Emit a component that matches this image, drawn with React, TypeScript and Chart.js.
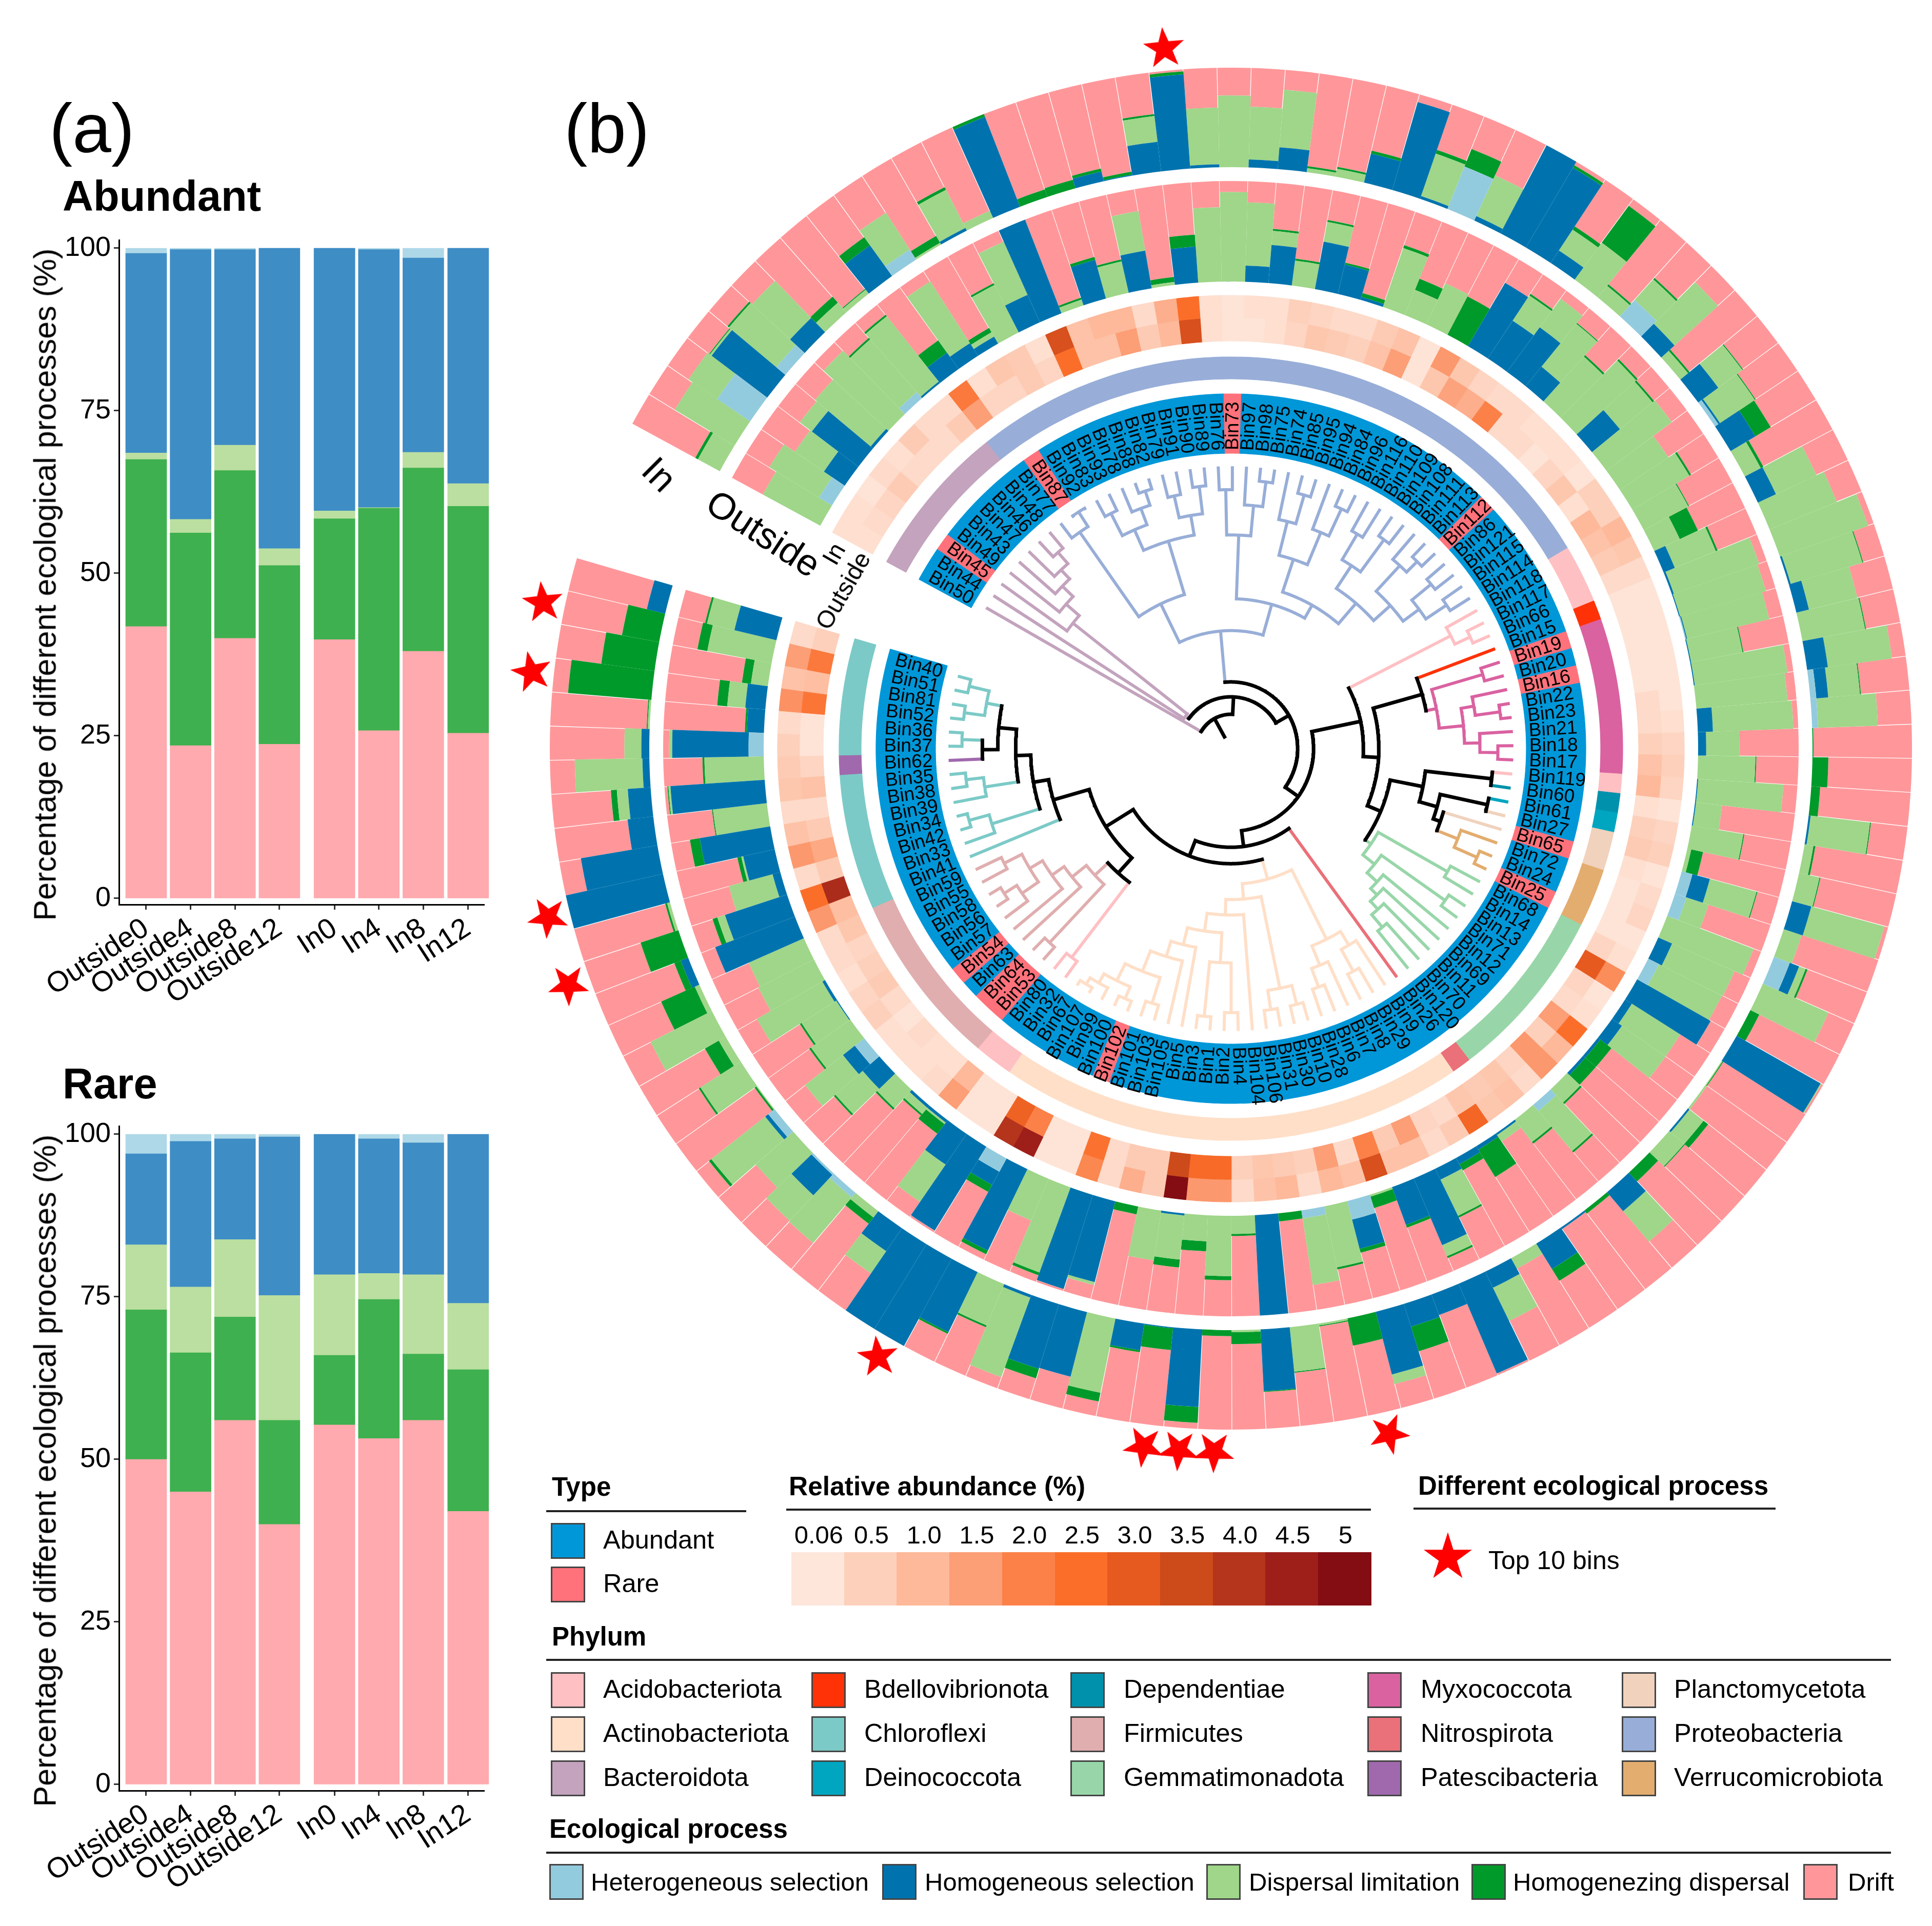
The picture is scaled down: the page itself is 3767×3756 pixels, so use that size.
import React, { useEffect, useRef } from "react";
import { Chart, registerables, DoughnutController } from "chart.js";
Chart.register(...registerables);
const FONT = '"Liberation Sans", Arial, sans-serif';

/* ---------- panel (a) ---------- */
const sampleLabels = ["Outside0", "Outside4", "Outside8", "Outside12", "In0", "In4", "In8", "In12"];
const samplePositions = [0, 1, 2, 3, 4.24, 5.24, 6.24, 7.25];
const processNames = ["Heterogeneous selection", "Homogeneous selection", "Dispersal limitation", "Homogenezing dispersal", "Drift"];
const processColors = ["#93CBDE", "#0073AE", "#9FD689", "#009A2A", "#FF979A"];
const barColors = { drift: "#FFAAAE", homDisp: "#3FB04F", disp: "#BADFA0", homSel: "#3F8DC5", het: "#AED8E8" };
const abDrift = [41.8, 23.5, 40, 23.7, 39.8, 25.8, 38, 25.4];
const abHomDisp = [25.7, 32.7, 25.8, 27.5, 18.6, 34.2, 28.2, 34.9];
const abDisp = [1, 2.1, 3.9, 2.6, 1.2, 0.1, 2.4, 3.5];
const abHomSel = [30.7, 41.5, 30.1, 46.2, 40.4, 39.7, 29.9, 36.2];
const abHet = [0.8, 0.2, 0.2, 0, 0, 0.2, 1.5, 0];
const raDrift = [50, 45, 56, 40, 55.3, 53.2, 56, 42];
const raHomDisp = [23, 21.4, 15.9, 16, 10.7, 21.4, 10.2, 21.8];
const raDisp = [10, 10.1, 11.9, 19.2, 12.4, 4, 12.2, 10.2];
const raHomSel = [14, 22.4, 15.5, 24.4, 21.6, 20.7, 20.3, 26];
const raHet = [3, 1.1, 0.7, 0.4, 0, 0.7, 1.3, 0];
const yAxisTitle = "Percentage of different ecological processes (%)";

/* ---------- panel (b) ---------- */
const binIds = [50,44,45,49,43,47,46,48,77,87,92,83,93,78,88,82,79,91,90,89,76,73,97,98,75,74,85,95,94,84,96,116,110,109,108,111,113,112,86,121,115,114,118,117,66,15,19,20,16,22,23,21,18,17,119,60,61,27,65,72,24,25,68,14,13,71,12,69,11,70,120,26,9,29,8,7,6,28,10,30,31,106,104,4,2,1,3,5,105,103,101,102,100,99,107,67,32,80,53,64,63,54,57,56,58,55,59,41,33,42,34,39,38,35,62,37,36,52,81,51,40];
const rareBins = [73,87,45,112,19,16,65,25,102,54,64,53];
const topBins = [89,51,52,34,33,107,3,1,2,30];
const typeColors = { Abundant: "#0097D8", Rare: "#FF727B" };
const phylumNames = ["Acidobacteriota","Actinobacteriota","Bacteroidota","Bdellovibrionota","Chloroflexi","Deinococcota","Dependentiae","Firmicutes","Gemmatimonadota","Myxococcota","Nitrospirota","Patescibacteria","Planctomycetota","Proteobacteria","Verrucomicrobiota"];
const phylumColors = ["#FFC0C3","#FFDFC8","#C3A3BD","#FF3207","#7CCAC7","#00A6C0","#0092AC","#E0AEAF","#98D6A9","#DA62A1","#EA7079","#A069AD","#F0D2BD","#98AED8","#E3AD6F"];
// [phylum index, number of consecutive bins]
const phylumRuns = [[2,8],[13,34],[0,3],[3,1],[9,8],[0,1],[6,1],[5,1],[12,2],[14,3],[8,9],[10,1],[1,24],[0,2],[7,9],[4,7],[11,1],[4,6]];
const abundanceTicks = ["0.06","0.5","1.0","1.5","2.0","2.5","3.0","3.5","4.0","4.5","5"];
const abundanceStops = [0.06,0.5,1,1.5,2,2.5,3,3.5,4,4.5,5];
const abundanceColors = ["#FEE6DA","#FDD0BB","#FDB99A","#FC9E76","#FB8148","#FB6E2A","#E65A20","#CD4A1B","#B4341C","#9E1F1A","#840D13"];
const heatIn = [.2,.2,.1,.3,.2,.6,.3,.3,2.2,.2,.7,.6,.2,3.3,.8,1,1,.3,1.2,2.5,.2,.1,.2,.2,.5,.4,.3,.3,.6,.8,.1,1.6,.7,.4,.3,.3,.2,.2,.2,.1,.5,.5,1,.7,.3,.1,.1,.1,.1,.1,.1,.2,.4,.5,.4,.1,.4,.5,.1,.3,.4,.1,.2,1.8,.1,.2,2.5,1,1.6,.3,.8,.7,2.7,.6,.3,.8,.8,3.3,.8,1,.3,1,.8,.3,1.6,1.6,5,.6,1.2,.3,1.9,.1,.1,4.5,4,.1,.1,1.5,.3,.2,.2,.2,.5,.4,.2,.3,.3,1.6,2.5,.3,1.6,.8,.3,.7,.6,.5,.3,1.7,.8,1.5,.3];
const heatOut = [.2,.3,.4,.6,.3,.3,.3,.6,1.5,.4,.4,.6,.4,2.5,.8,.8,1.5,.6,1,3.3,.2,.1,.1,.2,.4,.7,.6,.5,.8,1.5,.1,.7,1.4,1.2,2,.3,.3,.1,.4,.7,.2,1,.8,.6,.3,.1,.1,.1,.1,.1,.3,.3,.5,.8,1,.2,.5,.6,.2,.1,.1,.1,.4,3,.4,.3,1.5,.5,1.6,.4,.7,.6,.7,.3,.4,1.5,.6,2,.3,1.5,.5,.6,.7,.5,2.6,2.6,3.5,.6,.6,.3,2.4,.1,.1,2,2.8,.1,.1,1,.2,.2,.3,.1,.3,.6,.5,.4,.7,.9,4.2,.6,1.3,.6,.3,.8,.4,.1,.1,2.3,.9,2.2,.5];
// Each row, one bin: heterogeneous, homogeneous, dispersal limitation, homogenizing dispersal (%); drift is what remains of 100
const inRows = [
[0,0,25,3],[0,0,70,0],[40,0,35,0],[0,70,2,1],[12,0,62,2],[0,20,52,0],[0,0,13,8],[0,0,5,1],[0,38,0,10],[12,0,44,0],
[0,0,2,8],[0,3,43,3],[0,0,8,0],[0,97,0,3],[0,0,0,8],[0,0,0,9],[0,10,0,3],[0,1,0,3],[0,30,26,2],[0,95,0,3],
[0,3,57,0],[0,0,72,0],[0,8,53,0],[0,22,58,0],[0,0,4,2],[0,0,8,2],[0,30,0,3],[0,92,0,0],[0,3,45,4],[46,0,0,19],
[0,5,45,0],[0,100,0,0],[0,93,0,3],[0,15,25,4],[0,0,46,46],[0,0,15,2],[22,0,28,2],[0,18,59,0],[0,0,10,2],[0,25,30,1],
[4,2,42,1],[0,29,0,18],[0,0,18,3],[0,20,45,0],[0,0,73,0],[0,0,94,0],[0,2,75,1],[0,13,50,0],[0,0,64,1],[0,21,65,0],
[6,12,32,1],[6,0,60,0],[0,0,0,1],[0,0,0,16],[0,0,0,9],[0,2,60,1],[0,0,9,2],[0,0,21,1],[0,20,76,0],[0,0,19,0],
[17,10,7,2],[0,0,72,0],[0,0,0,10],[0,97,1,0],[0,0,1,1],[0,0,2,0],[0,2,18,6],[0,0,20,1],[0,0,0,12],[0,25,40,0],
[0,0,0,4],[0,2,0,0],[0,30,0,14],[0,0,12,0],[0,18,37,0],[0,98,0,0],[0,22,0,0],[0,24,0,26],[0,65,10,0],[0,0,0,28],
[0,0,2,1],[0,0,45,1],[0,62,0,1],[0,0,2,12],[0,0,0,6],[0,78,0,16],[0,1,0,22],[0,27,0,2],[0,0,76,9],[0,67,0,0],
[0,68,0,10],[0,3,85,0],[0,0,45,2],[0,67,0,2],[0,100,0,0],[0,100,0,0],[0,28,27,0],[0,0,8,8],[6,0,60,0],[2,28,35,0],
[0,0,50,0],[8,4,69,3],[0,0,1,2],[0,0,48,2],[0,0,8,16],[0,0,69,0],[0,0,5,37],[0,8,0,7],[0,0,0,40],[0,0,3,2],
[0,100,0,0],[0,78,0,0],[0,26,0,0],[0,23,11,6],[0,7,68,0],[0,8,17,0],[0,0,2,1],[0,0,0,84],[0,0,0,54],[0,0,0,38],[0,19,0,0]];
const outRows = [
[0,0,65,0],[15,0,58,0],[0,25,35,0],[0,58,15,0],[0,3,72,0],[0,0,88,0],[8,0,70,2],[0,2,83,2],[0,20,0,15],[0,15,73,0],
[0,8,5,5],[0,0,53,2],[0,30,58,0],[0,100,0,0],[0,0,6,2],[0,40,0,3],[0,0,32,2],[0,38,40,0],[0,0,3,5],[0,36,0,12],
[0,0,74,0],[0,0,89,0],[0,16,63,0],[0,38,14,2],[0,0,25,2],[0,48,20,2],[0,30,0,2],[0,3,0,4],[0,0,62,3],[0,0,27,12],
[0,0,45,0],[0,0,0,43],[0,73,0,0],[0,45,30,2],[0,55,35,0],[0,25,55,1],[0,0,60,2],[0,0,80,2],[0,36,42,2],[0,0,81,0],
[0,0,58,0],[0,0,66,2],[0,0,50,1],[0,0,28,20],[0,12,44,2],[0,2,90,0],[0,1,89,0],[1,1,84,0],[0,1,52,1],[0,1,93,0],
[0,0,91,0],[0,15,80,0],[0,8,33,0],[0,0,57,1],[0,1,85,0],[0,1,26,0],[0,0,52,1],[0,0,4,12],[11,18,48,1],[12,0,23,0],
[0,0,92,0],[0,15,68,0],[12,0,70,0],[0,84,0,0],[0,8,57,0],[0,12,53,0],[0,3,0,14],[0,3,0,14],[0,0,18,2],[8,0,52,2],
[0,0,28,2],[0,2,8,0],[0,4,0,32],[0,7,0,7],[0,12,40,2],[0,72,12,2],[0,40,0,3],[0,0,2,12],[19,30,0,4],[0,0,62,2],
[8,0,67,0],[0,0,0,8],[0,100,0,0],[0,0,18,2],[0,0,60,4],[0,0,26,10],[0,2,44,8],[0,0,50,0],[0,0,0,8],[0,83,3,0],
[0,98,0,0],[0,0,90,3],[0,0,45,0],[0,90,0,4],[15,15,0,8],[0,98,0,0],[0,37,45,0],[0,3,2,12],[0,3,8,2],[0,0,25,2],
[0,22,36,2],[12,15,48,0],[0,0,48,2],[0,1,41,2],[0,3,75,0],[0,0,62,0],[0,0,60,0],[0,85,0,0],[0,65,8,5],[0,8,45,0],
[0,32,2,4],[0,71,0,10],[0,0,54,1],[0,94,2,1],[0,0,59,2],[15,76,3,0],[0,17,0,2],[0,20,18,10],[0,0,17,9],[0,0,65,10],[0,43,28,2]];

/* Dendrogram: n(node radius, ...children); a number is a tip, by its position in binIds */
type T = number | { r: number; c: T[] };
const n = (r: number, ...c: T[]): T => ({ r, c });
const proteoA = n(323,
  n(530, 8, n(565, 9, 10)),
  n(435, n(480, n(530, 11, 12), n(515, 13, n(545, 14, 15))), n(475, n(520, 16, 17), n(530, 18, 19))));
const proteoB = n(301,
  n(429, n(520, 20, 21), n(490, 22, n(540, 23, 24))),
  n(331,
    n(400, n(470, 25, n(530, 26, 27)), n(470, 28, n(530, 29, 30))),
    n(385, n(440, n(500, 31, 32), n(520, 33, 34)), n(430, n(500, 35, n(530, 36, 37)), n(470, n(520, 38, 39), n(520, 40, 41))))));
const actino = n(272,
  n(303,
    n(491, n(530, 78, 79), n(530, 80, 81)),
    n(334, 82,
      n(370,
        n(430, n(530, 83, 84), n(540, 85, 86)),
        n(405, 87, n(437, 88, n(481, n(535, 89, 90), n(519, n(545, 91, 92), n(540, 93, n(555, 94, 95)))))))),
  ),
  n(428, n(460, 72, n(510, 73, 74)), n(470, 75, n(510, 76, 77))));
const firmicutes = n(373, n(533, 98, 99),
  n(410, 100, n(440, 101, n(470, n(510, 102, n(540, 103, 104)), n(510, 105, 106)))));
const chloroSide = n(371, 107,
  n(402, n(503, 108, n(545, 109, 110)),
    n(432, n(500, 111, n(535, 112, 113)),
      n(468, n(499, 114, n(540, 115, 116)), n(499, n(540, 117, 118), n(540, 119, 120))))));
const tree: T = n(27,
  n(69, 0,
    n(104,
      n(112, 1, n(405, 2, n(440, 3, n(470, 4, n(495, 5, n(525, 6, 7)))))),
      n(134,
        n(237, proteoA, proteoB),
        n(166,
          n(266,
            n(496, 42, n(530, 43, 44)),
            n(297,
              n(399, 45, n(420, n(527, 46, 47), n(469, n(495, 48, n(545, 49, 50)), n(500, 51, n(536, 52, 53))))),
              n(326,
                n(393, n(527, 54, 55), n(430, n(527, 56, 57), n(445, 58, n(490, 59, n(540, 60, 61))))),
                n(340, n(500, 62, 63), n(370, n(527, 64, 65), n(397, 66, n(415, 67, n(437, 68, n(470, 69, 70))))))))),
          n(198, 71,
            n(231, actino,
              n(296, n(337, n(527, 96, 97), firmicutes), chloroSide))))))));

/* ---------- helpers ---------- */
const ROT = -61.5, SWEEP = 347.8, COUNT = binIds.length, STEP = SWEEP / COUNT;
const HALF = 1500, TIP_R = 564, STAR_R = 1412;
const RINGS = { type: [576, 692], phylum: [721, 764], heatOut: [795, 840], heatIn: [840, 884], out: [911, 1107], in: [1134, 1328] };
const binAngle = (i: number) => ROT + (i + 0.5) * STEP;
const phylumOfBin: number[] = phylumRuns.flatMap(([p, c]) => Array(c).fill(p));
const hex = (h: string) => [1, 3, 5].map((s) => parseInt(h.slice(s, s + 2), 16));
const heatColor = (v: number) => {
  let k = 0;
  while (k < abundanceStops.length - 2 && v > abundanceStops[k + 1]) k++;
  const t = Math.max(0, Math.min(1, (v - abundanceStops[k]) / (abundanceStops[k + 1] - abundanceStops[k])));
  const a = hex(abundanceColors[k]), b = hex(abundanceColors[k + 1]);
  return `rgb(${a.map((x, j) => Math.round(x + (b[j] - x) * t)).join(",")})`;
};
const xy = (r: number, deg: number) => ({ x: r * Math.sin((deg * Math.PI) / 180), y: r * Math.cos((deg * Math.PI) / 180) });

class RingController extends (DoughnutController as any) {
  static id = "ring";
  static defaults = (DoughnutController as any).defaults;
  static overrides = (DoughnutController as any).overrides;
  updateElement(el: any, i: number, props: any, mode: any) {
    const ds = (this as any).getDataset();
    if (props) {
      const s = ((ROT - 90 + i * STEP) * Math.PI) / 180;
      const w = (STEP * Math.PI) / 180 - (ds.slit || 0);
      props.startAngle = s; props.endAngle = s + w; props.circumference = w;
      props.innerRadius = ds.r0[i]; props.outerRadius = ds.r1[i];
    }
    super.updateElement(el, i, props, mode);
  }
}
Chart.register(RingController as any);

const flat = (key: string, values: number[], colors: string[], label: string) => {
  const [a, b] = (RINGS as any)[key];
  return { label, data: values.map(() => 1), r0: values.map(() => a), r1: values.map(() => b), backgroundColor: colors, borderColor: colors, borderWidth: 1.2 };
};
const stackRing = (key: string, rows: number[][], name: string) => {
  const [a, b] = (RINGS as any)[key];
  const out: any[] = [];
  const cum = rows.map(() => 0);
  processNames.forEach((p, k) => {
    const vals = rows.map((row) => (k < 4 ? row[k] : Math.max(0, 100 - row[0] - row[1] - row[2] - row[3])));
    const r0 = vals.map((_, i) => a + ((b - a) * cum[i]) / 100);
    vals.forEach((v, i) => { cum[i] = Math.min(100, cum[i] + v); });
    const r1 = vals.map((_, i) => a + ((b - a) * cum[i]) / 100);
    out.push({ label: `${name} ${p}`, data: vals, r0, r1, backgroundColor: processColors[k], borderWidth: 0, slit: k === 4 ? 0.001 : 0 });
  });
  return out;
};

function buildTreeSegments() {
  const segs: Record<string, any[]> = {};
  const phy = (t: T): number => { // single phylum index or -1
    if (typeof t === "number") return phylumOfBin[t];
    const s = t.c.map(phy);
    return s.every((v) => v === s[0]) ? s[0] : -1;
  };
  const colorOf = (t: T) => { const p = phy(t); return p < 0 ? "#000000" : phylumColors[p]; };
  const angle = (t: T): number => (typeof t === "number" ? binAngle(t) : t.c.map(angle).reduce((a, b) => a + b, 0) / t.c.length);
  const radius = (t: T) => (typeof t === "number" ? TIP_R : t.r);
  const push = (c: string, pts: any[]) => { (segs[c] = segs[c] || []).push(...pts, { x: NaN, y: NaN }); };
  const walk = (t: T) => {
    if (typeof t === "number") return;
    const angles = t.c.map(angle);
    const lo = Math.min(...angles), hi = Math.max(...angles);
    const arc: any[] = [];
    for (let d = lo; d < hi; d += 0.5) arc.push(xy(t.r, d));
    arc.push(xy(t.r, hi));
    if (hi > lo) push(colorOf(t), arc);
    t.c.forEach((c, i) => {
      push(colorOf(c), [xy(t.r, angles[i]), xy(radius(c), angles[i])]);
      walk(c);
    });
  };
  walk(tree);
  return segs;
}

function starCanvas(size: number) {
  const c = document.createElement("canvas");
  c.width = size; c.height = size;
  const g = c.getContext("2d")!;
  g.fillStyle = "#FF0000";
  g.beginPath();
  for (let k = 0; k < 10; k++) {
    const rr = k % 2 ? size * 0.2 : size * 0.5;
    const a = (k * Math.PI) / 5;
    const px = size / 2 + rr * Math.sin(a), py = size / 2 - rr * Math.cos(a);
    k ? g.lineTo(px, py) : g.moveTo(px, py);
  }
  g.closePath(); g.fill();
  return c;
}

function Bars({ top, series }: { top: number; series: number[][] }) {
  const ref = useRef<HTMLCanvasElement>(null);
  useEffect(() => {
    const cols = [barColors.drift, barColors.homDisp, barColors.disp, barColors.homSel, barColors.het];
    const names = ["Drift", "Homogenezing dispersal", "Dispersal limitation", "Homogeneous selection", "Heterogeneous selection"];
    const chart = new Chart(ref.current!, {
      type: "bar",
      data: {
        datasets: series.map((vals, k) => ({
          label: names[k], backgroundColor: cols[k], barThickness: 80, clip: false as any,
          data: vals.map((y, i) => ({ x: samplePositions[i], y })),
        })),
      },
      options: {
        responsive: false, animation: false, devicePixelRatio: 1, events: [],
        layout: { padding: { top: 28, right: 76, left: 0, bottom: 0 } },
        plugins: { legend: { display: false }, tooltip: { enabled: false }, title: { display: false } },
        scales: {
          x: {
            type: "linear", stacked: true, offset: false, min: -0.612, max: 7.61,
            afterBuildTicks: (s: any) => { s.ticks = samplePositions.map((value) => ({ value })); },
            afterFit: (s: any) => { s.height = 266; s.paddingLeft = 0; s.paddingRight = 0; },
            ticks: { callback: (_: any, i: number) => sampleLabels[i], autoSkip: false, minRotation: 33, maxRotation: 33, font: { size: 56, family: FONT }, color: "#000", padding: 4 },
            grid: { offset: false, drawOnChartArea: false, tickLength: 10, tickWidth: 3, tickColor: "#333", drawTicks: true },
            border: { color: "#000", width: 3 },
          },
          y: {
            stacked: true, min: -0.95, max: 101.26,
            afterBuildTicks: (s: any) => { s.ticks = [0, 25, 50, 75, 100].map((value) => ({ value })); },
            afterFit: (s: any) => { s.width = 232; s.paddingTop = 0; s.paddingBottom = 0; },
            ticks: { font: { size: 54, family: FONT }, color: "#000", padding: 6 },
            grid: { drawOnChartArea: false, tickLength: 10, tickWidth: 3, tickColor: "#333" },
            border: { color: "#000", width: 3 },
          },
        },
      } as any,
    });
    return () => chart.destroy();
  }, []);
  return <canvas ref={ref} width={1020} height={1590} style={{ position: "absolute", left: 0, top, display: "block" }} />;
}

function Rings() {
  const ref = useRef<HTMLCanvasElement>(null);
  useEffect(() => {
    const typeCols = binIds.map((b) => (rareBins.includes(b) ? typeColors.Rare : typeColors.Abundant));
    const phyCols = phylumOfBin.map((p) => phylumColors[p]);
    const labelPlugin = {
      id: "binLabels",
      afterDatasetsDraw(chart: any) {
        const g = chart.ctx;
        const cx = chart.width / 2, cy = chart.height / 2;
        g.save();
        g.font = `37px ${FONT}`;
        g.fillStyle = "#000";
        g.textBaseline = "middle";
        binIds.forEach((b, i) => {
          const a = binAngle(i);
          const nrm = ((a % 360) + 360) % 360;
          const right = nrm <= 180;
          g.save();
          g.translate(cx, cy);
          g.rotate(((a - 90) * Math.PI) / 180);
          g.translate(582, 0);
          if (!right) g.rotate(Math.PI);
          g.textAlign = right ? "left" : "right";
          g.fillText(`Bin${b}`, 0, 1);
          g.restore();
        });
        g.restore();
      },
    };
    const chart = new Chart(ref.current!, {
      type: "ring" as any,
      data: {
        labels: binIds.map((b) => `Bin${b}`),
        datasets: [
          flat("type", binIds, typeCols, "Type"),
          flat("phylum", binIds, phyCols, "Phylum"),
          flat("heatOut", heatOut, heatOut.map(heatColor), "Abundance Outside"),
          flat("heatIn", heatIn, heatIn.map(heatColor), "Abundance In"),
          ...stackRing("out", outRows, "Outside"),
          ...stackRing("in", inRows, "In"),
        ] as any,
      },
      options: {
        responsive: false, animation: false, devicePixelRatio: 1, events: [],
        layout: { padding: 0 },
        plugins: { legend: { display: false }, tooltip: { enabled: false } },
      } as any,
      plugins: [labelPlugin],
    });
    return () => chart.destroy();
  }, []);
  return <canvas ref={ref} width={HALF * 2} height={HALF * 2} style={{ position: "absolute", left: 2400 - HALF, top: 1460 - HALF, display: "block" }} />;
}

function TreeAndStars() {
  const ref = useRef<HTMLCanvasElement>(null);
  useEffect(() => {
    const segs = buildTreeSegments();
    const star = starCanvas(84);
    const chart = new Chart(ref.current!, {
      type: "scatter",
      data: {
        datasets: [
          ...Object.entries(segs).map(([color, data]) => ({
            label: color, data, showLine: true, spanGaps: false, pointRadius: 0, borderColor: color, borderWidth: color === "#000000" ? 7 : 6, borderCapStyle: "square", borderJoinStyle: "round", tension: 0,
          })),
          {
            label: "Top 10 bins", showLine: false,
            data: topBins.map((b) => xy(STAR_R, binAngle(binIds.indexOf(b)))),
            pointStyle: star as any, pointRadius: 42, pointRotation: topBins.map((b) => binAngle(binIds.indexOf(b))),
          },
        ] as any,
      },
      options: {
        responsive: false, animation: false, devicePixelRatio: 1, events: [],
        layout: { padding: 0 },
        plugins: { legend: { display: false }, tooltip: { enabled: false } },
        scales: {
          x: { type: "linear", display: false, bounds: "data", min: -HALF, max: HALF },
          y: { type: "linear", display: false, bounds: "data", min: -HALF, max: HALF },
        },
      } as any,
    });
    return () => chart.destroy();
  }, []);
  return <canvas ref={ref} width={HALF * 2} height={HALF * 2} style={{ position: "absolute", left: 2400 - HALF, top: 1460 - HALF, display: "block" }} />;
}

const Txt = ({ x, y, s = 50.5, b = false, rot = 0, center = false, children }: any) => (
  <div style={{ position: "absolute", left: x, top: y, fontSize: s, fontWeight: b ? 700 : 400, lineHeight: 1, whiteSpace: "nowrap", color: "#000",
    transform: `translate(${center ? "-50%" : "0"},-50%) rotate(${rot}deg)` }}>{children}</div>
);
const Swatch = ({ x, y, c, w = 67, h = 70 }: any) => (
  <div style={{ position: "absolute", left: x, top: y - h / 2, width: w, height: h, background: c, boxSizing: "border-box", border: "3px solid #444" }} />
);
const Rule = ({ x0, x1, y }: any) => <div style={{ position: "absolute", left: x0, top: y, width: x1 - x0, height: 4, background: "#222" }} />;

export default function App() {
  const phyCols = [1074, 1582, 2087, 2666, 3162];
  const phyText = [1176, 1685, 2191, 2770, 3264];
  const phyRows = [3296, 3382, 3468];
  const procSw = [1071, 1720, 2352, 2869, 3516];
  const procTx = [1152, 1803, 2435, 2950, 3603];
  return (
    <div style={{ position: "absolute", left: 0, top: 0, width: 3767, height: 3756, overflow: "hidden", background: "#fff", fontFamily: FONT }}>
      <Bars top={440} series={[abDrift, abHomDisp, abDisp, abHomSel, abHet]} />
      <Bars top={2168} series={[raDrift, raHomDisp, raDisp, raHomSel, raHet]} />
      <Rings />
      <TreeAndStars />
      <Txt x={88} y={1140} s={61} rot={-90} center>{yAxisTitle}</Txt>
      <Txt x={88} y={2868} s={61} rot={-90} center>{yAxisTitle}</Txt>
      <Txt x={96} y={250} s={136}>(a)</Txt>
      <Txt x={1100} y={250} s={136}>(b)</Txt>
      <Txt x={122} y={382} s={83} b>Abundant</Txt>
      <Txt x={122} y={2113} s={83} b>Rare</Txt>
      <Txt x={1286} y={925} s={72} rot={45} center>In</Txt>
      <Txt x={1489} y={1040} s={72} rot={33} center>Outside</Txt>
      <Txt x={1626} y={1080} s={48} rot={-60} center>In</Txt>
      <Txt x={1644} y={1152} s={48} rot={-60} center>Outside</Txt>

      <Txt x={1076} y={2899} s={51} b>Type</Txt>
      <Rule x0={1065} x1={1455} y={2945} />
      <Swatch x={1074} y={3005} c={typeColors.Abundant} />
      <Swatch x={1074} y={3090} c={typeColors.Rare} />
      <Txt x={1176} y={3003}>Abundant</Txt>
      <Txt x={1176} y={3088}>Rare</Txt>

      <Txt x={1538} y={2899} s={51.5} b>Relative abundance (%)</Txt>
      <Rule x0={1533} x1={2673} y={2942} />
      {abundanceTicks.map((t, i) => <Txt key={t} x={1545 + (i + 0.5) * 102.7} y={2993} s={49} center>{t}</Txt>)}
      {abundanceColors.map((c, i) => <div key={c} style={{ position: "absolute", left: 1543 + i * 102.7, top: 3027, width: 103.5, height: 104, background: c }} />)}

      <Txt x={2765} y={2897} s={51} b>Different ecological process</Txt>
      <Rule x0={2756} x1={3462} y={2940} />
      <div style={{ position: "absolute", left: 2774, top: 2988, width: 98, height: 98, background: "#FF0000", clipPath: "polygon(50% 0,61% 35%,98% 35%,68% 57%,79% 91%,50% 70%,21% 91%,32% 57%,2% 35%,39% 35%)" }} />
      <Txt x={2902} y={3043} s={50}>Top 10 bins</Txt>

      <Txt x={1076} y={3191} s={51} b>Phylum</Txt>
      <Rule x0={1065} x1={3687} y={3235} />
      {phylumNames.map((p, i) => {
        const col = Math.floor(i / 3), row = i % 3;
        return (
          <React.Fragment key={p}>
            <Swatch x={phyCols[col]} y={phyRows[row]} c={phylumColors[i]} />
            <Txt x={phyText[col]} y={phyRows[row] - 2}>{p}</Txt>
          </React.Fragment>
        );
      })}

      <Txt x={1071} y={3566} s={51} b>Ecological process</Txt>
      <Rule x0={1065} x1={3687} y={3611} />
      {processNames.map((p, i) => (
        <React.Fragment key={p}>
          <Swatch x={procSw[i]} y={3670} c={processColors[i]} />
          <Txt x={procTx[i]} y={3670} s={49}>{p}</Txt>
        </React.Fragment>
      ))}
    </div>
  );
}
